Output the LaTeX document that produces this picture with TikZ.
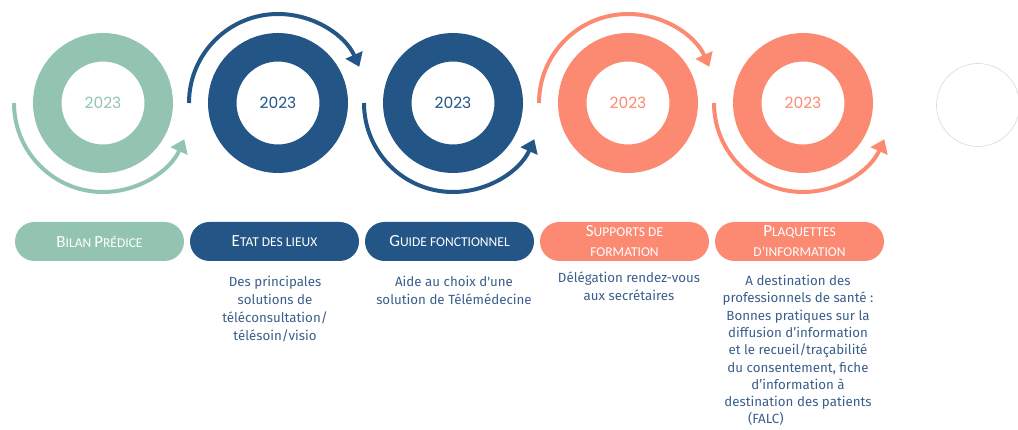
\documentclass[tikz,border=0pt]{standalone}
\usepackage{fontspec}
\setmainfont{Carlito}
\newfontfamily\yearfont{Poppins}
\newfontfamily\descfont{Fira Sans}
\usetikzlibrary{arrows.meta}
\definecolor{cgreen}{HTML}{93C4B2}
\definecolor{cblue}{HTML}{235587}
\definecolor{csalmon}{HTML}{FC8A72}
\definecolor{ctext}{HTML}{3A5E8C}
\newcommand\sca[2]{{\fontsize{17}{20}\selectfont #1}{\fontsize{13.5}{20}\selectfont #2}}
\begin{document}
\begin{tikzpicture}[x=1pt,y=1pt,
  ring/.style={circle, line width=28.5pt, minimum size=111.5pt, inner sep=0pt, font=\yearfont\fontsize{15.5}{18}\selectfont},
  pill/.style={rectangle, rounded corners=19.5pt, minimum width=169pt, minimum height=39pt, inner sep=0pt, text=white, align=center, font=\fontsize{13.5}{20}\selectfont},
  desc/.style={text=ctext, align=center, font=\descfont\fontsize{13.3}{18}\selectfont, anchor=north, inner sep=0pt},
  loop/.style={line width=4pt, -{Triangle[length=13pt,width=18pt]}},
]
\useasboundingbox (0,0) rectangle (1018,430);
\clip (0,0) rectangle (1018,430);

% rings
\node[ring, draw=cgreen, text=cgreen] (c1) at (103,327) {2023};
\node[ring, draw=cblue, text=cblue] (c2) at (278,327) {2023};
\node[ring, draw=cblue, text=cblue] (c3) at (453,327) {2023};
\node[ring, draw=csalmon, text=csalmon] (c4) at (628,327) {2023};
\node[ring, draw=csalmon, text=csalmon] (c5) at (803,327) {2023};
\node[circle, draw=black!15, line width=0.6pt, minimum size=83pt, inner sep=0pt] (c6) at (978,325) {};

% looping arrows
\draw[loop, cgreen] ([xshift=-89pt]c1.center) arc[start angle=180, end angle=336, radius=89];
\draw[loop, cblue] ([xshift=-89pt]c2.center) arc[start angle=180, end angle=24, radius=89];
\draw[loop, cblue] ([xshift=-89pt]c3.center) arc[start angle=180, end angle=336, radius=89];
\draw[loop, csalmon] ([xshift=-89pt]c4.center) arc[start angle=180, end angle=24, radius=89];
\draw[loop, csalmon] ([xshift=-89pt]c5.center) arc[start angle=180, end angle=336, radius=89];

% pills
\node[pill, fill=cgreen] (p1) at (99.5,188.5) {\sca{B}{ILAN} \sca{P}{RÉDICE}};
\node[pill, fill=cblue] (p2) at (274.5,188.5) {\sca{E}{TAT DES LIEUX}};
\node[pill, fill=cblue] (p3) at (449.5,188.5) {\sca{G}{UIDE FONCTIONNEL}};
\node[pill, fill=csalmon] (p4) at (624.5,188.5) {\sca{S}{UPPORTS DE}\\FORMATION};
\node[pill, fill=csalmon] (p5) at (799.5,188.5) {\sca{P}{LAQUETTES}\\D'INFORMATION};

% descriptions
\node[desc] (d2) at (275,154) {Des principales\\solutions de\\téléconsultation/\\télésoin/visio};
\node[desc] (d3) at (454,154) {Aide au choix d'une\\solution de Télémédecine};
\node[desc] (d4) at (629,158) {Délégation rendez-vous\\aux secrétaires};
\node[desc, font=\descfont\fontsize{13.3}{17.3}\selectfont] (d5) at (798,155) {A destination des\\professionnels de santé :\\Bonnes pratiques sur la\\diffusion d’information\\et le recueil/traçabilité\\du consentement, fiche\\d’information à\\destination des patients\\\makebox[100pt][l]{(FALC)}};
\end{tikzpicture}
\end{document}
